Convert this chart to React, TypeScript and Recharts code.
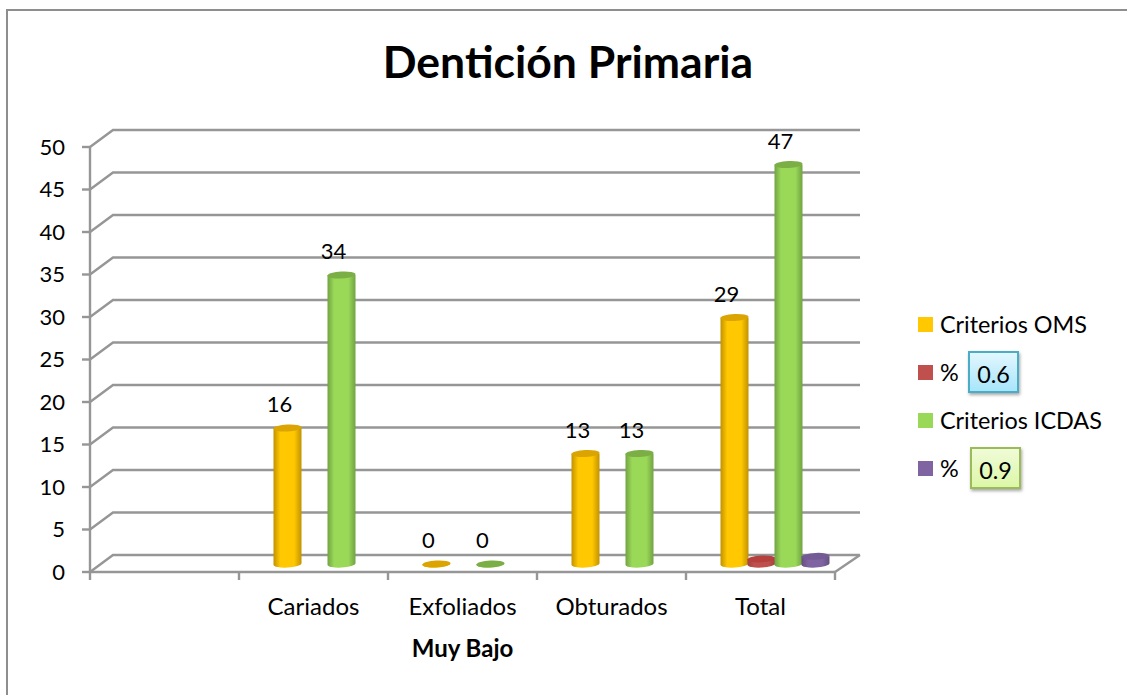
import { Bar, BarChart, CartesianGrid, LabelList, Legend, XAxis, YAxis } from "recharts"

const categories = ["", "Cariados", "Exfoliados", "Obturados", "Total"]
const omsValues = [null, 16, 0, 13, 29]
const omsPct = [null, null, null, null, 0.6]
const icdasValues = [null, 34, 0, 13, 47]
const icdasPct = [null, null, null, null, 0.9]
const yTicks = [0, 5, 10, 15, 20, 25, 30, 35, 40, 45, 50]
const legendNotes = [null, "0.6", null, "0.9"]

const data = categories.map((name, i) => ({
  name,
  oms: omsValues[i],
  omsPct: omsPct[i],
  icdas: icdasValues[i],
  icdasPct: icdasPct[i],
}))

const FONT = "Lato, 'Noto Sans', sans-serif"
const LINE = "#969696"
const LINE_W = 2.4
const DEPTH_X = 23
const DEPTH_Y = 17
const BAND = 149
const PLOT_RIGHT = 835

const palette = {
  yellow: { fill: "#ffc800", top: "#dba400", edge: "#c29200" },
  red: { fill: "#c0504d", top: "#b5403d", edge: "#a04340" },
  green: { fill: "#9ad958", top: "#7cae46", edge: "#72a343" },
  purple: { fill: "#8064a2", top: "#755b96", edge: "#66507f" },
}

function Gradient({ id, c }: { id: string; c: { fill: string; edge: string } }) {
  return (
    <linearGradient id={id} x1="0" y1="0" x2="1" y2="0">
      <stop offset="0%" stopColor={c.edge} />
      <stop offset="24%" stopColor={c.fill} />
      <stop offset="74%" stopColor={c.fill} />
      <stop offset="100%" stopColor={c.edge} />
    </linearGradient>
  )
}

// cylinder sitting half way into the floor depth
function cylinder(colour: keyof typeof palette) {
  return (props: any) => {
    const { x, y, width, height, value } = props
    if (value == null || y == null) return <g />
    const cx = x + width / 2 + 14
    const left = cx - 14
    const right = cx + 14
    const top = y - 8
    const base = top + height
    return (
      <g>
        <path
          d={`M${left},${top} L${left},${base + 0.7} A14,3.6 -3 0 0 ${right},${base - 0.7} L${right},${top} Z`}
          fill={`url(#cyl-${colour})`}
        />
        <ellipse
          cx={cx}
          cy={top}
          rx={14}
          ry={3.4}
          fill={palette[colour].top}
          transform={`rotate(-3 ${cx} ${top})`}
        />
      </g>
    )
  }
}

function ValueLabel(props: any) {
  const { x, y, width, value } = props
  return (
    <text x={x + width / 2 + 6} y={y - 24} textAnchor="middle" fontSize={22} fontFamily={FONT} fill="#000">
      {value}
    </text>
  )
}

function WallLine(props: any) {
  const { x1, y1, y2 } = props
  const backY = y1 - DEPTH_Y
  const isFloor = y1 > 570
  return (
    <g key={`wall-${y1}`} fill="none" stroke={LINE} strokeWidth={LINE_W}>
      <path d={`M${x1},${y1} L${x1 + DEPTH_X},${backY} L${PLOT_RIGHT + 25},${backY}`} />
      {isFloor && <path d={`M${PLOT_RIGHT},${y2} L${PLOT_RIGHT + 25},${backY}`} />}
    </g>
  )
}

function CategoryTick(props: any) {
  const { x, y, payload, index } = props
  const axisY = 572
  return (
    <g>
      {index === 0 && <line x1={x - BAND / 2} x2={x - BAND / 2} y1={axisY} y2={axisY + 8} stroke={LINE} strokeWidth={LINE_W} />}
      <line x1={x + BAND / 2} x2={x + BAND / 2} y1={axisY} y2={axisY + 8} stroke={LINE} strokeWidth={LINE_W} />
      <text x={x} y={y + 35} textAnchor="middle" fontSize={24} fontFamily={FONT} fill="#000">
        {payload.value}
      </text>
    </g>
  )
}

function NoteBox({ text, left, border, from, to }: { text: string; left: number; border: string; from: string; to: string }) {
  return (
    <span
      style={{
        position: "absolute",
        left,
        boxSizing: "border-box",
        width: 51,
        height: 42,
        lineHeight: "42px",
        textAlign: "center",
        border: `2px solid ${border}`,
        background: `linear-gradient(${from}, ${to})`,
        boxShadow: "1px 2px 3px rgba(0,0,0,0.35)",
      }}
    >
      {text}
    </span>
  )
}

function LegendList({ payload }: any) {
  return (
    <div style={{ fontFamily: FONT, fontSize: 23.4, color: "#000", whiteSpace: "nowrap" }}>
      {(payload || []).map((item: any, i: number) => (
        <div key={i} style={{ position: "relative", display: "flex", alignItems: "center", height: 48 }}>
          <span style={{ width: 15, height: 15, background: item.color, marginRight: 7, flex: "none" }} />
          <span>{item.value}</span>
          {legendNotes[i] && (
            <NoteBox
              text={legendNotes[i] as string}
              left={i === 1 ? 50 : 52}
              border={i === 1 ? "#4bacc6" : "#9bbb59"}
              from={i === 1 ? "#e2f7fe" : "#f0fbd8"}
              to={i === 1 ? "#a9e5fb" : "#dcf7a8"}
            />
          )}
        </div>
      ))}
    </div>
  )
}

export default function App() {
  return (
    <div style={{ position: "absolute", left: 0, top: 0, width: 1127, height: 695, background: "#fff", overflow: "hidden" }}>
      <div
        style={{
          position: "absolute",
          left: 6,
          top: 9,
          width: 1130,
          height: 700,
          borderTop: "2px solid #8e8e8e",
          borderLeft: "2px solid #8e8e8e",
          boxSizing: "border-box",
        }}
      />
      <div
        style={{
          position: "absolute",
          left: 0,
          top: 36,
          width: 1136,
          textAlign: "center",
          fontFamily: FONT,
          fontWeight: 700,
          fontSize: 44.5,
          lineHeight: "50px",
        }}
      >
        Dentición Primaria
      </div>
      <BarChart
        width={1127}
        height={695}
        data={data}
        barSize={27}
        barGap={0}
        margin={{ top: 147, right: 292, bottom: 43, left: 30 }}
        style={{ position: "absolute", left: 0, top: 0 }}
      >
        <defs>
          <Gradient id="cyl-yellow" c={palette.yellow} />
          <Gradient id="cyl-red" c={palette.red} />
          <Gradient id="cyl-green" c={palette.green} />
          <Gradient id="cyl-purple" c={palette.purple} />
        </defs>
        <CartesianGrid vertical={false} horizontal={WallLine} />
        <XAxis
          dataKey="name"
          height={80}
          interval={0}
          tickLine={false}
          axisLine={{ stroke: LINE, strokeWidth: LINE_W }}
          tick={CategoryTick}
          label={{ value: "Muy Bajo", position: "insideBottom", offset: -5, fontSize: 24, fontWeight: 700, fontFamily: FONT, fill: "#000" }}
        />
        <YAxis
          width={60}
          domain={[0, 50]}
          ticks={yTicks}
          interval={0}
          tickSize={8}
          tickMargin={17}
          tickLine={{ stroke: LINE, strokeWidth: LINE_W }}
          axisLine={{ stroke: LINE, strokeWidth: LINE_W }}
          tick={{ fontSize: 22, fontFamily: FONT, fill: "#000" }}
        />
        <Legend
          layout="vertical"
          align="center"
          verticalAlign="middle"
          itemSorter={null}
          content={LegendList}
          wrapperStyle={{ position: "absolute", left: 918, top: 300, width: 200, margin: 0 }}
        />
        <Bar dataKey="oms" name="Criterios OMS" fill={palette.yellow.fill} shape={cylinder("yellow")} isAnimationActive={false}>
          <LabelList dataKey="oms" content={ValueLabel} />
        </Bar>
        <Bar dataKey="omsPct" name="%" fill={palette.red.fill} shape={cylinder("red")} isAnimationActive={false} />
        <Bar dataKey="icdas" name="Criterios ICDAS" fill={palette.green.fill} shape={cylinder("green")} isAnimationActive={false}>
          <LabelList dataKey="icdas" content={ValueLabel} />
        </Bar>
        <Bar dataKey="icdasPct" name="%" fill={palette.purple.fill} shape={cylinder("purple")} isAnimationActive={false} />
      </BarChart>
    </div>
  )
}
